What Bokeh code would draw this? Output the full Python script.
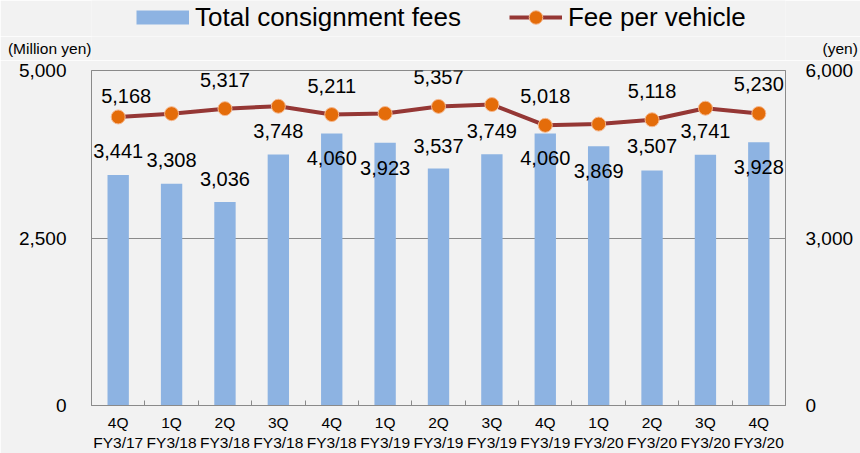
from bokeh.plotting import figure
from bokeh.layouts import column
from bokeh.models import (Range1d, LinearAxis, FixedTicker, NumeralTickFormatter,
                          ColumnDataSource, Legend, LegendItem)
from bokeh.core.properties import value
from bokeh.embed import file_html
from bokeh.resources import INLINE

# ---------------- data ----------------
quarters = ["4Q", "1Q", "2Q", "3Q", "4Q", "1Q", "2Q", "3Q", "4Q", "1Q", "2Q", "3Q", "4Q"]
fiscal_years = ["FY3/17", "FY3/18", "FY3/18", "FY3/18", "FY3/18", "FY3/19", "FY3/19",
                "FY3/19", "FY3/19", "FY3/20", "FY3/20", "FY3/20", "FY3/20"]
total_fees = [3441, 3308, 3036, 3748, 4060, 3923, 3537, 3749, 4060, 3869, 3507, 3741, 3928]
fee_per_vehicle = [5168, 5227, 5317, 5360, 5211, 5230, 5357, 5390, 5018, 5040, 5118, 5325, 5230]
left_ticks = [0, 2500, 5000]
right_ticks = [0, 3000, 6000]
labelled_points = [0, 2, 4, 6, 8, 10, 12]
series_names = ["Total consignment fees", "Fee per vehicle"]
unit_names = ["(Million yen)", "(yen)"]

# label placement (pixels) - layout, not data
bar_label_dy = [-24, -24, -23, -23, 25, 25, -23, -23, 25, 25, -25, -24, 25]

FONT = "Liberation Sans"
GRAY = "#8a8a8a"
BG = "#f2f2f2"
BAR = "#8db3e2"
LINE = "#953735"
MARK = "#e46c0a"
MARK_EDGE = "#f5b88f"

W = 860
LEG_H = 36
UNIT_H = 24
MAIN_H = 453 - LEG_H - UNIT_H

n = len(quarters)
xs = list(range(n))

src = ColumnDataSource(dict(
    x=xs, fees=total_fees, fpv=fee_per_vehicle,
    fee_txt=[f"{v:,}" for v in total_fees],
    bar_dy=bar_label_dy,
))
lbl_src = ColumnDataSource(dict(
    x=[xs[i] for i in labelled_points],
    y=[fee_per_vehicle[i] for i in labelled_points],
    txt=[f"{fee_per_vehicle[i]:,}" for i in labelled_points],
    dx=[8 if k == 0 else 0 for k in range(len(labelled_points))],
    dy=[-21 if k == 0 else -29 for k in range(len(labelled_points))],
))

# ---------------- main chart ----------------
p = figure(width=W, height=MAIN_H, output_backend="svg", toolbar_location=None,
           x_range=Range1d(-0.5, n - 0.5), y_range=Range1d(left_ticks[0], left_ticks[-1]),
           min_border_left=91, min_border_right=72, min_border_top=10, min_border_bottom=46,
           background_fill_color=BG, border_fill_color=BG,
           outline_line_color=GRAY, outline_line_width=1)
p.extra_y_ranges = {"right": Range1d(right_ticks[0], right_ticks[-1])}

ya = p.yaxis[0]
ya.ticker = FixedTicker(ticks=left_ticks)
ya.formatter = NumeralTickFormatter(format="0,0")
ya.axis_line_color = GRAY
ya.major_tick_in = 0
ya.major_tick_out = 0
ya.minor_tick_line_color = None
ya.major_label_text_font = FONT
ya.major_label_text_font_size = "19px"
ya.major_label_text_color = "#000000"
ya.major_label_standoff = 25

xa = p.xaxis[0]
xa.ticker = FixedTicker(ticks=xs, minor_ticks=[i + 0.5 for i in xs[:-1]])
xa.major_label_overrides = {i: f"{quarters[i]}\n{fiscal_years[i]}" for i in xs}
xa.axis_line_color = GRAY
xa.major_tick_in = 0
xa.major_tick_out = 0
xa.major_tick_line_color = None
xa.minor_tick_in = 5
xa.minor_tick_out = 0
xa.minor_tick_line_color = GRAY
xa.major_label_text_font = FONT
xa.major_label_text_font_size = "15.5px"
xa.major_label_text_color = "#000000"
xa.major_label_standoff = 8

p.xgrid.visible = False
p.ygrid.ticker = FixedTicker(ticks=left_ticks)
p.ygrid.grid_line_color = GRAY
p.ygrid.grid_line_width = 1

ra = LinearAxis(y_range_name="right", ticker=FixedTicker(ticks=right_ticks),
                formatter=NumeralTickFormatter(format="0,0"))
ra.axis_line_color = GRAY
ra.major_tick_in = 0
ra.major_tick_out = 0
ra.minor_tick_line_color = None
ra.major_label_text_font = FONT
ra.major_label_text_font_size = "19px"
ra.major_label_text_color = "#000000"
ra.major_label_standoff = 20
p.add_layout(ra, "right")

p.vbar(x="x", top="fees", width=0.4, source=src, fill_color=BAR, line_color=None)
p.text(x="x", y="fees", text="fee_txt", y_offset="bar_dy", source=src,
       text_font=value(FONT), text_font_size="20px", text_color="#000000",
       text_align="center", text_baseline="middle")

p.line(x="x", y="fpv", source=src, y_range_name="right", line_color=LINE, line_width=4)
p.scatter(x="x", y="fpv", source=src, y_range_name="right", size=14,
          fill_color=MARK, line_color=MARK_EDGE, line_width=1)
p.text(x="x", y="y", text="txt", x_offset="dx", y_offset="dy", source=lbl_src,
       y_range_name="right",
       text_font=value(FONT), text_font_size="20px", text_color="#000000",
       text_align="center", text_baseline="middle")


def strip(height):
    f = figure(width=W, height=height, output_backend="svg", toolbar_location=None,
               x_range=Range1d(-0.5, n - 0.5), y_range=Range1d(0, 1),
               x_axis_type=None, y_axis_type=None, min_border=0,
               background_fill_color=BG, border_fill_color=BG, outline_line_color=None)
    f.grid.visible = False
    return f


# ---------------- legend strip ----------------
hl = strip(LEG_H)
# legend stand-ins: same series, drawn far outside this strip's visible range
sw = hl.line(x="x", y="fees", source=src, line_color=BAR, line_width=14, line_cap="butt")
lg_line = hl.line(x="x", y="fpv", source=src, line_color=LINE, line_width=4)
lg_mark = hl.scatter(x="x", y="fpv", source=src, size=14,
                     fill_color=MARK, line_color=MARK_EDGE, line_width=1)
legend = Legend(
    items=[LegendItem(label=series_names[0], renderers=[sw]),
           LegendItem(label=series_names[1], renderers=[lg_line, lg_mark])],
    location=(45, LEG_H - 34), orientation="horizontal", padding=0, margin=0, spacing=48,
    border_line_color=None, background_fill_alpha=0,
    glyph_width=53, glyph_height=34, label_height=34, label_standoff=6,
    label_text_font=FONT, label_text_font_size="26px", label_text_color="#000000")
hl.add_layout(legend, "center")

# ---------------- unit caption strip ----------------
hu = strip(UNIT_H)
for side, name, standoff in (("left", unit_names[0], 0), ("right", unit_names[1], 37)):
    ax = LinearAxis(ticker=FixedTicker(ticks=[]), axis_label=name,
                    axis_label_orientation="horizontal", axis_label_standoff=standoff,
                    axis_line_color=None, major_tick_line_color=None,
                    minor_tick_line_color=None, major_tick_in=0, major_tick_out=0,
                    minor_tick_in=0, minor_tick_out=0, major_label_standoff=0,
                    axis_label_text_font=FONT, axis_label_text_font_size="15.5px",
                    axis_label_text_font_style="normal", axis_label_text_color="#000000")
    hu.add_layout(ax, side)

layout = column(hl, hu, p, spacing=0)

html = file_html(layout, INLINE)
html = html.replace("<body>", '<body style="background-color:#f2f2f2;">', 1)
open("out.html", "w").write(html)
